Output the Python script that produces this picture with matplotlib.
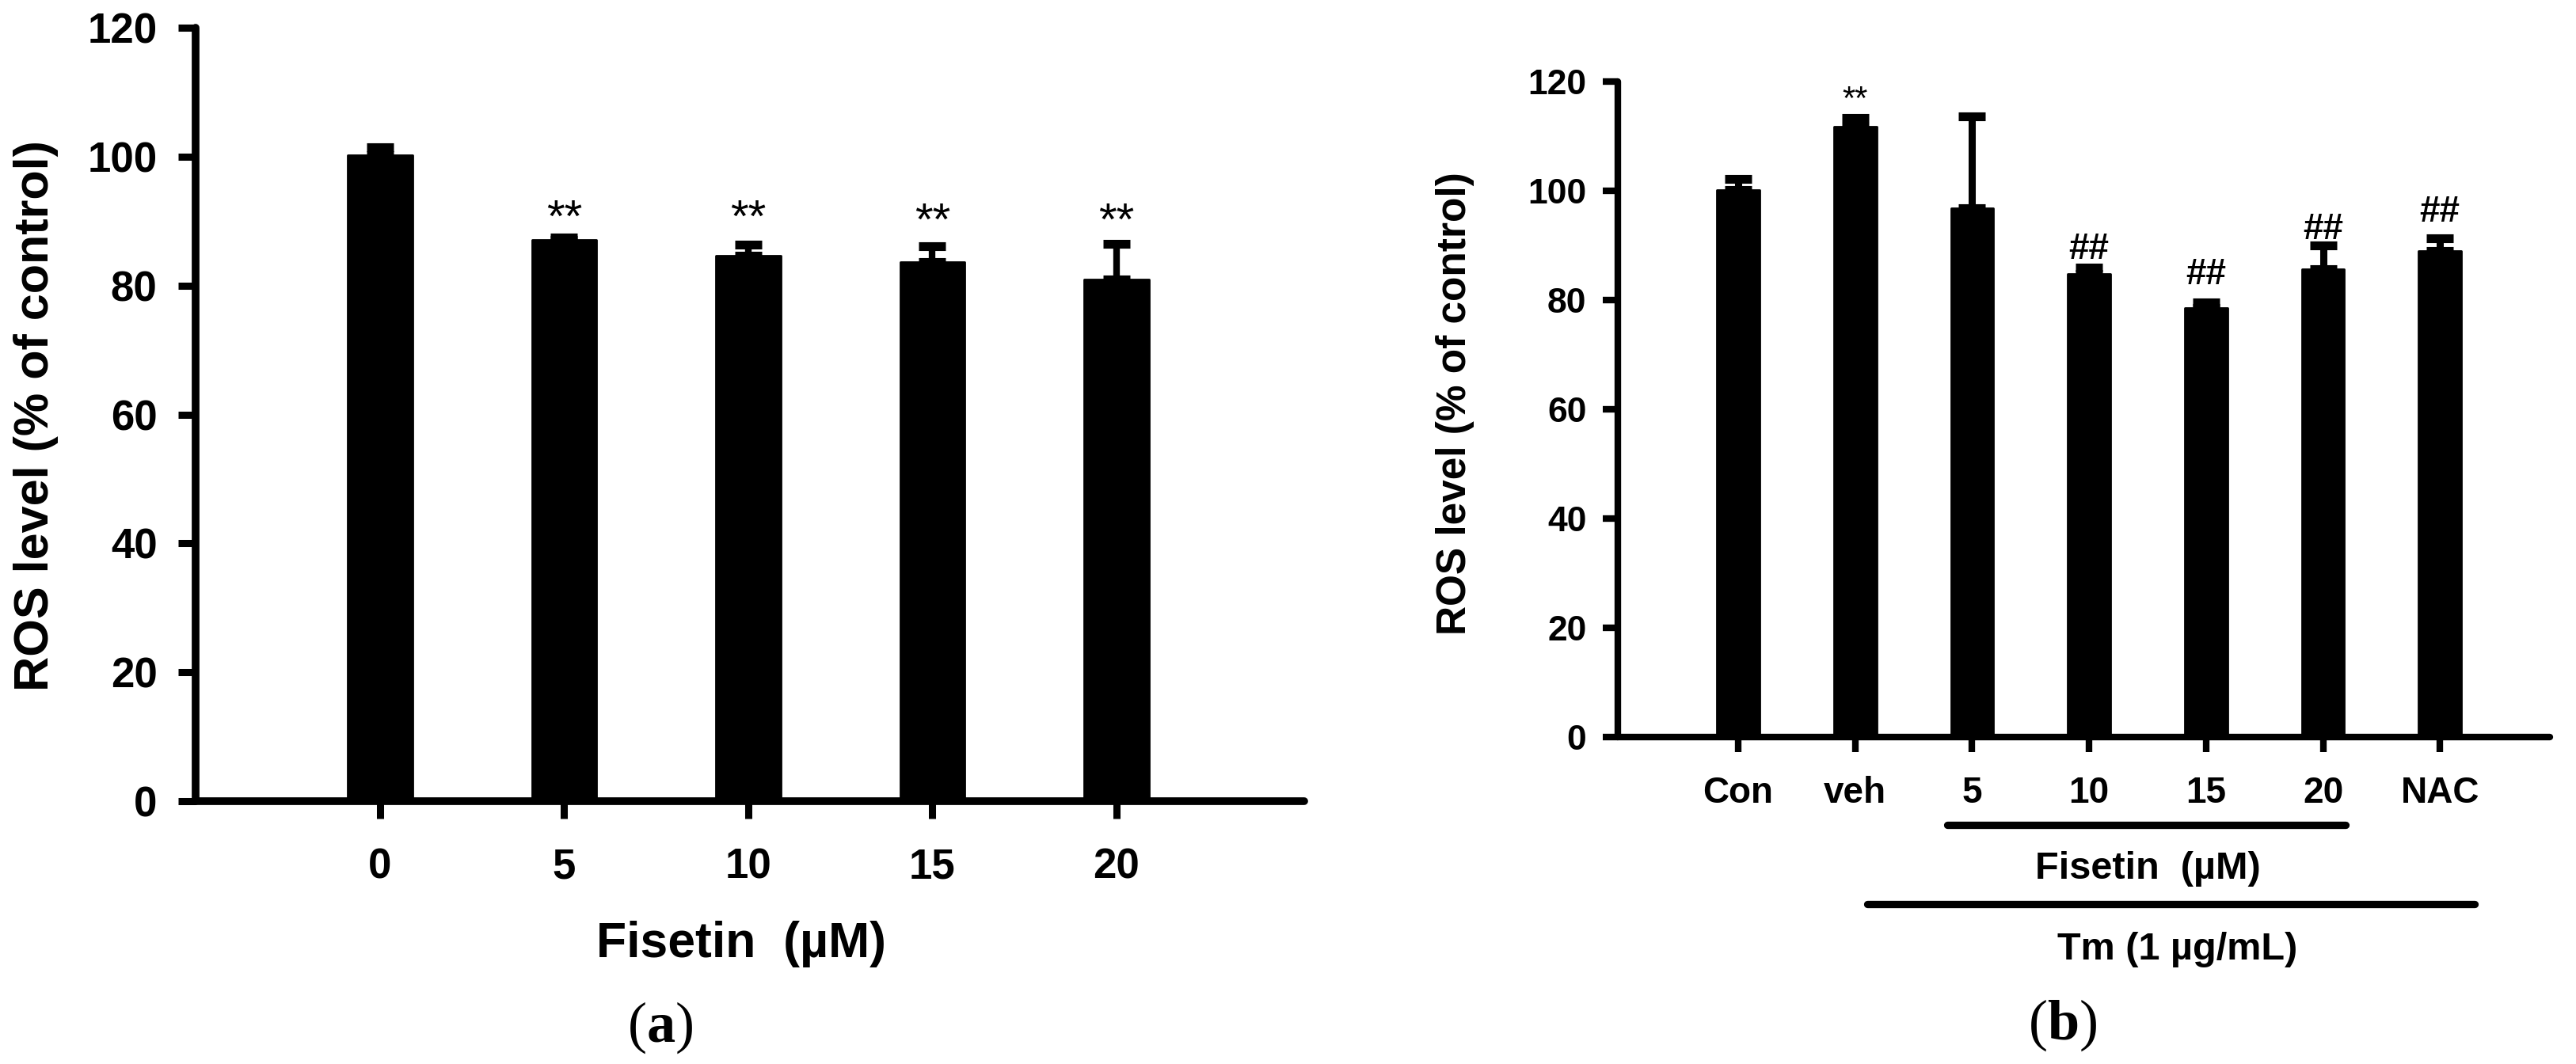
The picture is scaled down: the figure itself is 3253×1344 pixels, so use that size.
import numpy as np
import matplotlib
matplotlib.use("Agg")
import matplotlib.pyplot as plt
import matplotlib.transforms as mtransforms

# Data
doses_a = ["0", "5", "10", "15", "20"]
ros_a = [100.2, 87.1, 84.6, 83.7, 81.0]
err_a = [1.2, 0.3, 1.8, 2.4, 5.5]
marks_a = ["", "**", "**", "**", "**"]
mark_y_a = [0, 88.3, 88.3, 87.8, 87.8]

groups_b = ["Con", "veh", "5", "10", "15", "20", "NAC"]
ros_b = [100.1, 111.7, 96.8, 84.8, 78.5, 85.6, 89.0]
err_b = [2.1, 1.7, 16.8, 1.1, 1.1, 4.4, 2.3]
marks_b = ["", "**", "", "##", "##", "##", "##"]
mark_y_b = [0, 114.9, 0, 87.5, 82.9, 91.1, 94.3]

plt.rcParams["font.family"] = ["Liberation Sans", "DejaVu Sans"]
plt.rcParams["font.weight"] = "bold"
plt.rcParams["mathtext.fontset"] = "custom"
plt.rcParams["mathtext.rm"] = "Liberation Serif"
plt.rcParams["mathtext.bf"] = "Liberation Serif:bold"

W, H = 3253, 1344
fig = plt.figure(figsize=(W / 100, H / 100), dpi=100)


def px(x, y):
    return x / W, 1 - y / H


def style_axes(ax, lw, tlen, twid, ypad, xpad, ysize, xsize):
    for s in ["top", "right"]:
        ax.spines[s].set_visible(False)
    for s in ["left", "bottom"]:
        ax.spines[s].set_linewidth(lw)
        ax.spines[s].set_capstyle("round")
    ax.tick_params(axis="both", direction="out", length=tlen, width=twid)
    ax.tick_params(axis="y", pad=ypad, labelsize=ysize)
    ax.tick_params(axis="x", pad=xpad, labelsize=xsize)
    ax.set_ylim(0, 120)
    ax.set_yticks(np.arange(0, 121, 20))


# Panel (a)
ax_a = fig.add_axes([247 / W, 1 - 1012 / H, (1647 - 247) / W, (1012 - 35) / H])
xa = np.arange(len(doses_a))
ax_a.errorbar(xa, ros_a, yerr=[np.zeros(len(xa)), err_a], fmt="none",
              ecolor="black", elinewidth=6, capsize=12.5, capthick=8, zorder=2)
ax_a.bar(xa, ros_a, width=0.35, color="black", edgecolor="black",
         linewidth=2, joinstyle="round", zorder=3)
for i, m in enumerate(marks_a):
    if m:
        ax_a.text(xa[i], mark_y_a[i], m, ha="center", va="baseline",
                  fontsize=42, fontweight="normal")
ax_a.set_xlim(-1.002, 5.02)
ax_a.set_xticks(xa)
ax_a.set_xticklabels(doses_a)
style_axes(ax_a, 7, 16, 6.5, 19, 26, 38, 38)

fig.text(*px(46, 525), "ROS level (% of control)", rotation=90,
         ha="center", va="center", fontsize=44)
fig.text(*px(936, 1192), "Fisetin  (\u00b5M)", ha="center", va="center",
         fontsize=45)
fig.text(*px(834, 1298), r"($\mathbf{a}$)", ha="center", va="center",
         fontsize=52, fontweight="normal", family="Liberation Serif")

# Panel (b)
ax_b = fig.add_axes([2043 / W, 1 - 931 / H, (3220 - 2043) / W, (931 - 103) / H])
xb = np.arange(len(groups_b))
ax_b.errorbar(xb, ros_b, yerr=[np.zeros(len(xb)), err_b], fmt="none",
              ecolor="black", elinewidth=6.5, capsize=12, capthick=8, zorder=2)
ax_b.bar(xb, ros_b, width=0.365, color="black", edgecolor="black",
         linewidth=2, joinstyle="round", zorder=3)
for i, m in enumerate(marks_b):
    if m == "**":
        ax_b.text(xb[i], mark_y_b[i], m, ha="center", va="baseline",
                  fontsize=30, fontweight="normal", clip_on=False)
    elif m:
        ax_b.text(xb[i], mark_y_b[i], m, ha="center", va="baseline",
                  fontsize=33, fontweight="bold", clip_on=False)
ax_b.set_xlim(-1.03, 6.94)
ax_b.set_xticks(xb)
ax_b.set_xticklabels(groups_b)
style_axes(ax_b, 6, 13.5, 6, 15, 22, 32, 33)

# group bars under the x axis
trans = mtransforms.blended_transform_factory(ax_b.transData, ax_b.transAxes)
ax_b.plot([2 - 0.21, 5 + 0.19], [-0.134, -0.134], color="black", lw=6.7,
          solid_capstyle="round", transform=trans, clip_on=False)
ax_b.plot([1 + 0.10, 6 + 0.30], [-0.255, -0.255], color="black", lw=6.7,
          solid_capstyle="round", transform=trans, clip_on=False)

fig.text(*px(1838, 510), "ROS level (% of control)", rotation=90,
         ha="center", va="center", fontsize=37)
fig.text(*px(2712, 1098), "Fisetin  (\u00b5M)", ha="center", va="center",
         fontsize=35)
fig.text(*px(2750, 1200), "Tm (1 \u00b5g/mL)", ha="center", va="center",
         fontsize=35)
fig.text(*px(2605, 1295), r"($\mathbf{b}$)", ha="center", va="center",
         fontsize=52, fontweight="normal", family="Liberation Serif")

fig.savefig("out.png", dpi=100, facecolor="white")
